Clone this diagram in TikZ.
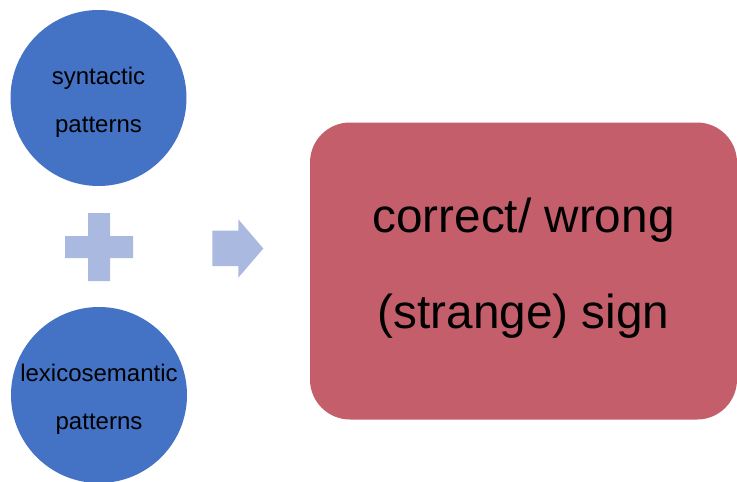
\documentclass[tikz,border=0pt]{standalone}
\usepackage{fontspec}
\setmainfont{Liberation Sans}
\definecolor{circblue}{HTML}{4472C4}
\definecolor{signblue}{HTML}{AAB9E0}
\definecolor{boxrose}{HTML}{C45E6B}
\tikzset{
  patterncircle/.style={circle, fill=circblue, minimum size=176pt, inner sep=0pt},
  patterntext/.style={align=center, font=\fontsize{24}{48}\selectfont, text=black, inner sep=0pt},
  resultbox/.style={rectangle, rounded corners=40pt, fill=boxrose,
    minimum width=427pt, minimum height=297pt, inner sep=0pt},
  resulttext/.style={align=center, font=\fontsize{47.7}{96}\selectfont, text=black, inner sep=0pt},
  opsign/.style={fill=signblue}
}
\begin{document}
\begin{tikzpicture}[x=1pt, y=-1pt]
  \useasboundingbox (0,0) rectangle (737,482);
  % two input pattern groups
  \node[patterncircle] (syn) at (98.5,98) {};
  \node[patterntext] (syntext) at ([yshift=-4pt]syn.center) {syntactic\\patterns};
  \node[patterncircle] (lex) at (99,395) {};
  \node[patterntext] (lextext) at ([yshift=-4pt]lex.center) {lexicosemantic\\patterns};
  % plus sign between them
  \fill[opsign] (88,213) -- (110,213) -- (110,236) -- (133,236) -- (133,258)
    -- (110,258) -- (110,281) -- (88,281) -- (88,258) -- (65,258) -- (65,236)
    -- (88,236) -- cycle;
  % arrow towards the result
  \fill[opsign] (212.3,230.7) -- (238.3,230.7) -- (238.3,219.3) -- (263.3,248.5)
    -- (238.3,277.7) -- (238.3,266) -- (212.3,266) -- cycle;
  % result box
  \node[resultbox] (res) at (523.5,271) {};
  \node[resulttext] (restext) at ([yshift=3pt]res.center) {correct/ wrong\\(strange) sign};
\end{tikzpicture}
\end{document}
